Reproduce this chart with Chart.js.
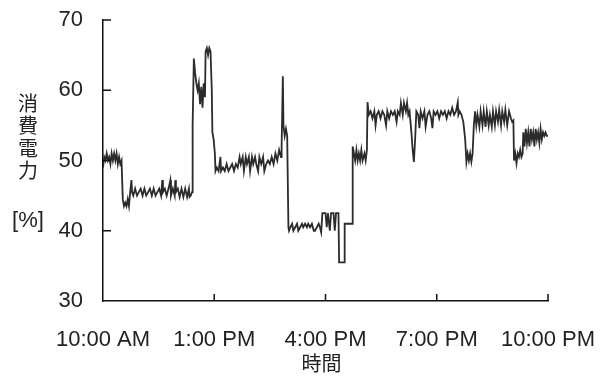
<!DOCTYPE html>
<html><head><meta charset="utf-8">
<script src="https://cdn.jsdelivr.net/npm/chart.js@4/dist/chart.umd.min.js"></script>
<style>html,body{margin:0;padding:0;background:#fff;}#wrap{width:607px;height:376px;}</style>
</head><body><div id="wrap"><canvas id="c" width="607" height="376"></canvas></div>
<script>
// minutes after 10:00 AM
const minutes = [
0,2,4,6,8,10,12,14,16,18,20,22,24,26,28,30,32,34,36,38,40,42,44,46,47,
49,52,55,58,61,64,67,70,73,76,79,82,85,88,91,94,96,97,100,103,106,109,110,113,116,117,118,121,124,127,130,133,136,139,140,142,144,
145,147,149,151,153,155,157,159,161,163,165,166,168,170,172,174,176,177,179,181,182,
184,187,190,191,194,197,200,203,206,209,212,215,218,221,223,226,228,231,233,236,238,241,243,246,248,251,253,256,259,261,264,267,270,273,276,279,282,285,288,289,291,292,294,296,298,300,301,
303,306,308,311,314,316,319,322,324,327,330,332,335,338,341,343,346,349,351,353,
355,360,362,364,367,369,373,375,377,381,382,390,391,403,404,406,408,410,412,414,416,418,420,423,425,427,
428,430,433,436,439,441,443,446,449,452,455,458,460,463,466,469,472,475,477,480,482,485,487,490,492,494,496,499,501,503,505,507,510,512,514,517,520,522,525,528,531,533,535,538,541,544,547,550,553,556,559,562,565,568,571,574,575,577,580,583,586,588,590,592,594,596,598,600,602,604,606,609,611,614,616,619,621,624,626,629,631,634,636,639,641,644,646,649,651,654,657,660,662,664,665,667,669,671,673,675,677,679,680,682,684,686,688,690,692,694,696,698,700,702,704,706,708,710,712,714,716,718,720
];
// power consumption [%]
const power = [
49,50.5,50,51,50,50.5,49.5,51,50,51,50,51,49.5,50.5,49.5,50,44.5,43.5,44,43.5,44.5,43.5,45.5,47.2,45.5,
45,46,45,45.5,46,45,46,45,45.5,46,45,46,45,45.5,46,45,47.2,45.5,46,45,46,47.2,45,46,45,47.2,45.5,46,44.8,46,44.8,46,44.8,46,44.8,45,45.5,
55,64.5,62.5,61,60,61,58,60.5,57.5,61,59,65.5,66,65,66,65.5,60,54,53,51,48.5,
49,48.5,50.5,48.5,49,48.5,49.5,48.5,49,49.5,48.5,49.5,49,50.5,49.5,50.5,48.5,50.5,49.5,50.5,48.5,50.5,49.5,50.5,49.5,48.5,50.5,49.5,50.5,48.5,49.5,50,49.5,50.5,49.5,51,50,51.5,50.5,52,62,55,53.5,54.5,53.5,40.5,40,
40.5,41,40,40.5,41,40,40.5,41,40.5,41,40.5,41,40.5,41,40,40,40.5,41,40.5,39.8,
42.5,42.5,40.5,42.5,40,42.5,42.5,40,42.5,42.5,35.5,35.5,41,41,52,51,50,51.5,50,51,50,51.5,50,51,50,51.5,
58.3,56.5,57,56,57,55,56.5,57,56,57,56.5,55,57,56,57,56.5,57,55.5,57,56.5,58.2,56.5,58.2,57,58.2,56.5,57,54,51.5,49.8,53,57,56.5,54.6,57,56,57,54.8,56.5,57,56,54.6,57,56.5,57,56,57,56.5,57,56,57,56.5,57.5,56.5,57,58.3,56.5,57,56.5,55.5,53,49.8,51,50,51,49.8,51,55,57,55,56.5,54.8,57,55,57,54.8,57,55,56.5,54.8,57,55,57,55.5,57.2,55,57,55.5,57.2,55,57,56,55.5,55.7,50,51,49.6,51,50.5,51.5,50.5,51,54,52,54.5,52.5,54,52,54.5,53,54,52,54.5,53,54,52.5,54.5,53,54,53.5,54,53.5,53.5
];
const xTickValues = [0,180,360,540,720];
const xTickLabels = ['10:00 AM','1:00 PM','4:00 PM','7:00 PM','10:00 PM'];
const yTickValues = [30,40,50,60,70];
const yTitleLines = ['消','費','電','力','[%]'];
const xTitle = '時間';

const points = minutes.map((m,i)=>({x:m,y:power[i]}));
const LATIN = '"Liberation Sans", Arial, sans-serif';
const CJK = '"Noto Sans CJK JP", sans-serif';

const decor = {
  id:'decor',
  afterDraw(chart){
    const ctx = chart.ctx, xs = chart.scales.x, ys = chart.scales.y, ca = chart.chartArea;
    ctx.save();
    ctx.strokeStyle = '#111'; ctx.lineWidth = 1.5;
    ctx.beginPath();
    yTickValues.slice(1).forEach(v=>{ const p = ys.getPixelForValue(v); ctx.moveTo(ca.left, p); ctx.lineTo(ca.left+8, p); });
    xTickValues.slice(1).forEach(v=>{ const p = xs.getPixelForValue(v); ctx.moveTo(p, ca.bottom); ctx.lineTo(p, ca.bottom-7); });
    ctx.stroke();
    ctx.fillStyle = '#222'; ctx.textAlign = 'center'; ctx.textBaseline = 'middle';
    ctx.font = '20px ' + CJK;
    const ys0 = [103,125,148,170];
    for (let i=0;i<4;i++) ctx.fillText(yTitleLines[i], 28, ys0[i]);
    ctx.font = '22px ' + LATIN;
    ctx.fillText(yTitleLines[4], 28, 221);
    ctx.font = '20px ' + CJK;
    ctx.fillText(xTitle, (ca.left+ca.right)/2 - 4, 363);
    ctx.restore();
  }
};

new Chart(document.getElementById('c'), {
  type:'line',
  data:{ datasets:[{ data:points, borderColor:'#2b2b2b', borderWidth:1.8, pointRadius:0, tension:0, fill:false }] },
  options:{
    responsive:false, animation:false, devicePixelRatio:1,
    layout:{ padding:{ top:20, right:59, left:0, bottom:0 } },
    plugins:{ legend:{display:false}, tooltip:{enabled:false} },
    scales:{
      x:{ type:'linear', min:0, max:720,
        afterBuildTicks:(s)=>{ s.ticks = xTickValues.map(v=>({value:v})); },
        afterFit:(s)=>{ s.height = 75; s.paddingLeft = 0; s.paddingRight = 0; },
        ticks:{ callback:(v)=>xTickLabels[xTickValues.indexOf(v)], color:'#222', font:{family:LATIN, size:22}, padding:26, maxRotation:0, autoSkip:false },
        grid:{ display:false, drawTicks:false },
        border:{ display:true, color:'#111', width:1.5 }
      },
      y:{ min:30, max:70,
        afterBuildTicks:(s)=>{ s.ticks = yTickValues.map(v=>({value:v})); },
        afterFit:(s)=>{ s.width = 103; s.paddingTop = 0; s.paddingBottom = 0; },
        ticks:{ color:'#222', font:{family:LATIN, size:22}, padding:20 },
        grid:{ display:false, drawTicks:false },
        border:{ display:true, color:'#111', width:1.5 }
      }
    }
  },
  plugins:[decor]
});
</script></body></html>
